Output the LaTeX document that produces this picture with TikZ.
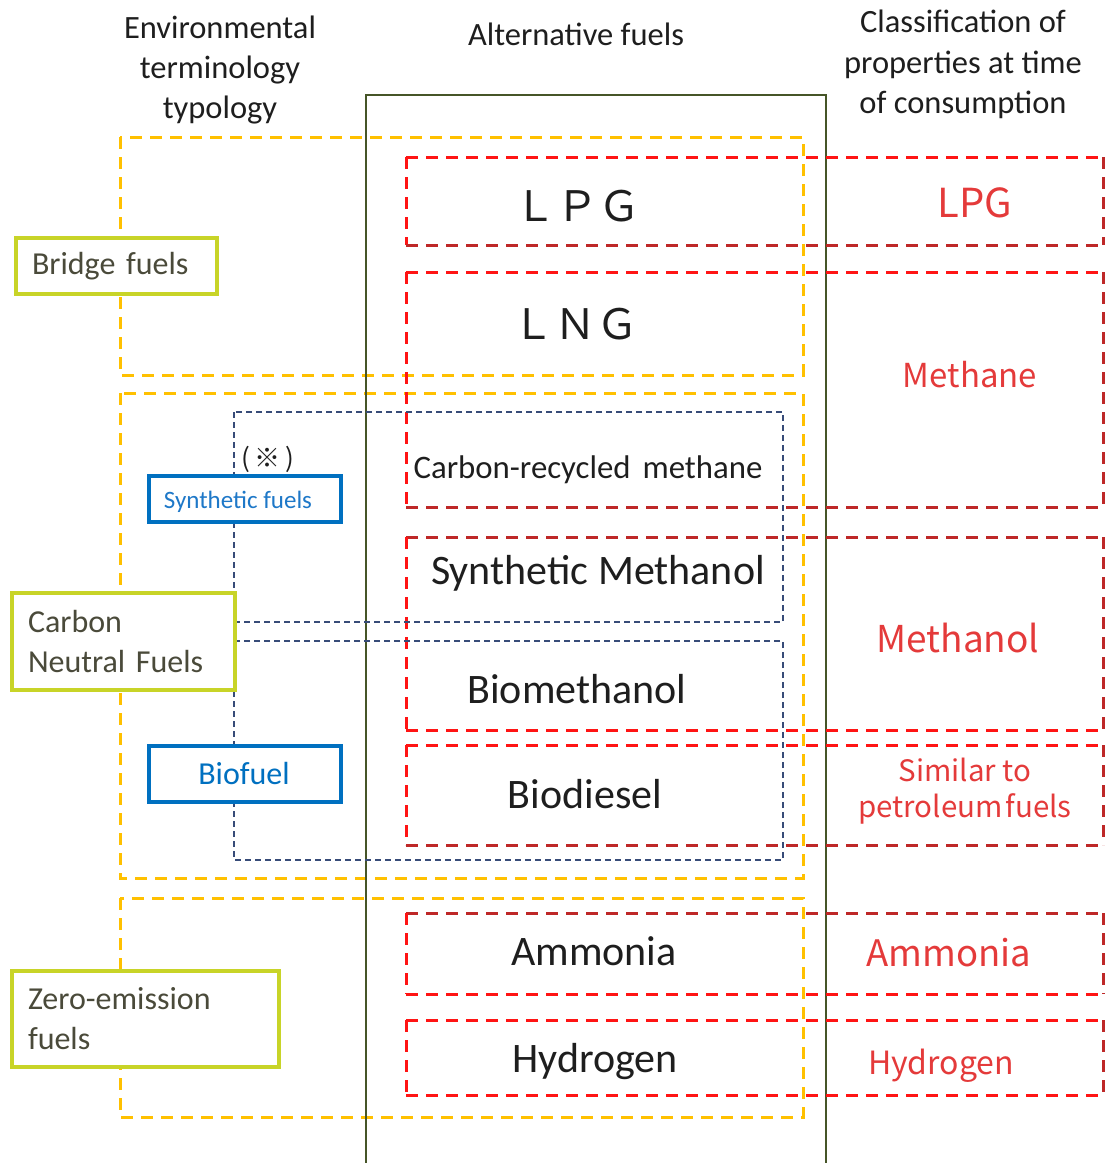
\documentclass[tikz,border=0pt]{standalone}
\usepackage{fontspec}
\setmainfont{Carlito}
\newfontfamily\jpfont{Noto Sans CJK JP}
\definecolor{orangeC}{RGB}{255,192,0}
\definecolor{oliveC}{RGB}{70,85,40}
\definecolor{navyC}{RGB}{55,75,120}
\definecolor{greenC}{RGB}{200,212,40}
\definecolor{grayT}{RGB}{74,74,58}
\definecolor{blueC}{RGB}{0,112,192}
\definecolor{blueT}{RGB}{30,120,200}
\definecolor{redB}{RGB}{255,20,20}
\definecolor{redD}{RGB}{190,40,40}
\definecolor{redT}{RGB}{228,58,58}
\definecolor{darkT}{RGB}{30,30,30}
\newcommand\redrect[6]{%
  \draw[reddash,draw=#5] (#1,#2) -- (#3,#2);
  \draw[reddash,draw=redB] (#1,#2) -- (#1,#4);
  \draw[reddash,draw=#6] (#1,#4) -- (#3,#4);
  \draw[reddash,draw=redD] (#3,#2) -- (#3,#4);}
\tikzset{
  orangedash/.style={draw=orangeC,line width=3pt,dash pattern=on 12pt off 8pt},
  reddash/.style={line width=3pt,dash pattern=on 12pt off 8pt},
  navydash/.style={draw=navyC,line width=2.4pt,dash pattern=on 6pt off 4pt},
  greenbox/.style={draw=greenC,line width=4.5pt,fill=white,text=grayT,align=left,outer sep=0pt,
    anchor=north west,inner xsep=16pt,inner ysep=0pt,font=\fontsize{32}{40}\selectfont},
  bluebox/.style={draw=blueC,line width=4pt,fill=white,inner sep=0pt},
  header/.style={anchor=base,text=darkT,font=\fontsize{32.5}{40}\selectfont},
  midtext/.style={anchor=base,text=darkT,font=\fontsize{42}{48}\selectfont},
  redtext/.style={anchor=base,text=redT},
}
\begin{document}
\begin{tikzpicture}[x=1pt,y=-1pt]
\useasboundingbox (0,0) rectangle (1105,1163);
% headers
\node[header] (env1) at (220,38) {Environmental};
\node[header] (env2) at (220,78) {terminology};
\node[header] (env3) at (220,118) {typology};
\node[header] (alt) at (576,45) {Alternative fuels};
\node[header] (cls1) at (963,32) {Classification of};
\node[header] (cls2) at (963,73) {properties at time};
\node[header] (cls3) at (963,113) {of consumption};
% orange dashed groups
\draw[orangedash] (120,137) rectangle (803,375);
\draw[orangedash] (120,393) rectangle (803,878);
\draw[orangedash] (120,898) rectangle (803,1117);
% olive column
\draw[oliveC,line width=2.8pt] (366,1170) -- (366,95) -- (826,95) -- (826,1170);
% red dashed classes
\redrect{406}{157}{1103}{245}{redB}{redD}
\redrect{406}{272}{1103}{507}{redB}{redD}
\redrect{406}{537}{1103}{730}{redD}{redB}
\redrect{406}{745}{1103}{845}{redB}{redD}
\redrect{406}{913}{1103}{994}{redD}{redB}
\redrect{406}{1020}{1103}{1095}{redB}{redB}
% navy dashed groups
\draw[navydash] (234,412) rectangle (783,622);
\draw[navydash] (234,641) rectangle (783,860);
% left boxes
\node[greenbox,text width=169pt,minimum height=56pt] (bridge) at (16,238) {Bridge fuels};
\node[greenbox,text width=191pt,minimum height=97pt] (cnf) at (12,593) {Carbon\\Neutral Fuels};
\node[greenbox,text width=235pt,minimum height=96pt] (zef) at (12,971) {Zero-emission\\fuels};
\node[bluebox,minimum width=192pt,minimum height=46pt] (syn) at (245,499) {};
\node[anchor=base,text=blueT,font=\fontsize{25}{30}\selectfont] (syntxt) at (238,508) {Synthetic fuels};
\node[bluebox,minimum width=192pt,minimum height=56pt] (bio) at (245,774) {};
\node[anchor=base,text=blueC,font=\fontsize{32}{38}\selectfont] (biotxt) at (244,784) {Biofuel};
\node[anchor=base,text=darkT,font=\jpfont\fontsize{26}{30}\selectfont] (note) at (268,467) {(\,※\,)};
% middle texts
\node[anchor=base,text=darkT,font=\jpfont\fontsize{42}{48}\selectfont] (lpg) at (577,221) {ＬＰＧ};
\node[anchor=base,text=darkT,font=\jpfont\fontsize{42}{48}\selectfont] (lng) at (575,339) {ＬＮＧ};
\node[anchor=base,text=darkT,font=\fontsize{32.8}{38}\selectfont] (crm) at (588,478) {Carbon-recycled\hspace{12pt}methane};
\node[midtext] (smeth) at (598,584) {Synthetic Methanol};
\node[midtext] (bmeth) at (577,703) {Biomethanol};
\node[midtext] (bdsl) at (585,808) {Biodiesel};
\node[midtext] (amm) at (594,965) {Ammonia};
\node[midtext] (hyd) at (595,1072) {Hydrogen};
% right texts
\node[redtext,font=\jpfont\fontsize{40}{46}\selectfont] (rlpg) at (975,217) {LPG};
\node[redtext,font=\jpfont\fontsize{33}{40}\selectfont] (rmeth) at (970,387) {Methane};
\node[redtext,font=\jpfont\fontsize{37}{44}\selectfont] (rmol) at (958,652) {Methanol};
\node[redtext,font=\jpfont\fontsize{29.5}{36}\selectfont] (rsim1) at (965,781) {Similar to};
\node[redtext,font=\jpfont\fontsize{29.5}{36}\selectfont] (rsim2) at (965,817) {petroleum\hspace{3pt}fuels};
\node[redtext,font=\jpfont\fontsize{36.5}{44}\selectfont] (ramm) at (949,966) {Ammonia};
\node[redtext,font=\jpfont\fontsize{32}{40}\selectfont] (rhyd) at (941,1074) {Hydrogen};
\end{tikzpicture}
\end{document}
